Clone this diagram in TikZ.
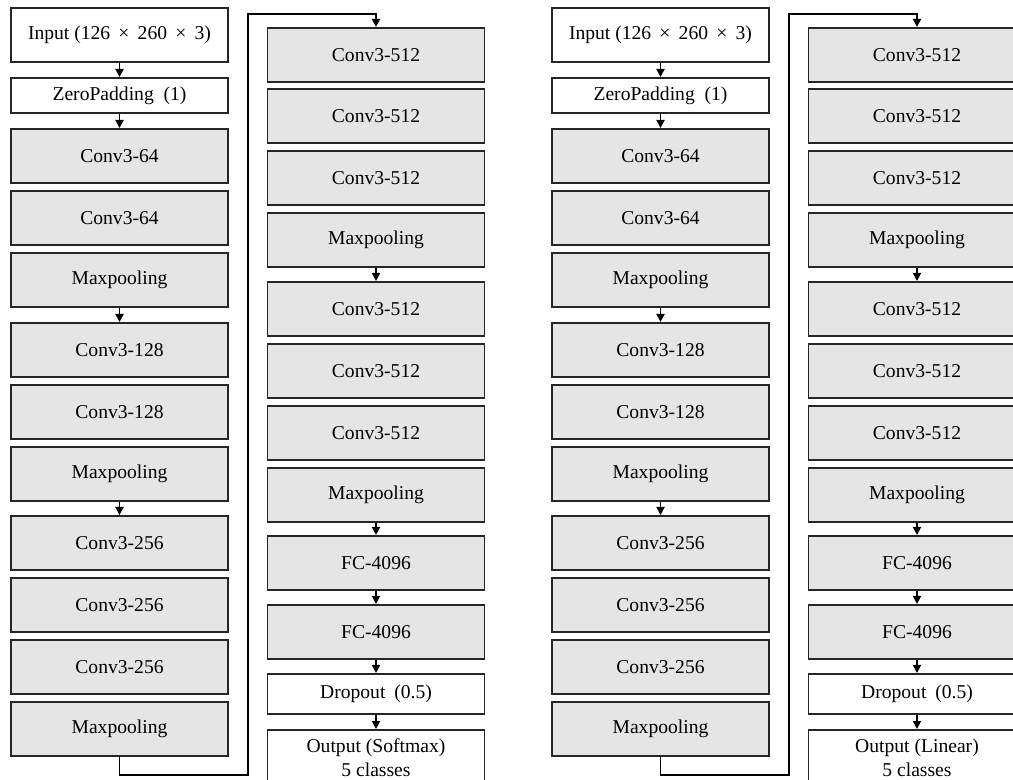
\documentclass[tikz,border=0pt]{standalone}
\usepackage{fontspec}
\setmainfont{Liberation Serif}
\usetikzlibrary{arrows.meta}

% one block: name, centre x, top y, height, style, label (units: 1 = 0.5pt)
\newcommand{\blk}[6]{\node[#5, minimum height=#4*0.5pt, anchor=north] (#1) at (#2,#3) {#6};}

% the full network in two columns; #1 = name prefix, #2 = output label
\newcommand{\vggnet}[2]{%
  % first column
  \blk{#1a1}{119.5}{7}{54}{plainbox}{Input (126\hspace{0.42em}×\hspace{0.42em}260\hspace{0.42em}×\hspace{0.42em}3)}
  \blk{#1a2}{119.5}{77}{35}{plainbox}{ZeroPadding\hspace{0.5em}(1)}
  \blk{#1a3}{119.5}{128}{54}{layer}{Conv3-64}
  \blk{#1a4}{119.5}{190}{54}{layer}{Conv3-64}
  \blk{#1a5}{119.5}{252}{54}{layer}{Maxpooling}
  \blk{#1a6}{119.5}{322}{54}{layer}{Conv3-128}
  \blk{#1a7}{119.5}{384}{54}{layer}{Conv3-128}
  \blk{#1a8}{119.5}{446}{54}{layer}{Maxpooling}
  \blk{#1a9}{119.5}{515}{54}{layer}{Conv3-256}
  \blk{#1a10}{119.5}{577}{54}{layer}{Conv3-256}
  \blk{#1a11}{119.5}{639}{54}{layer}{Conv3-256}
  \blk{#1a12}{119.5}{701}{54}{layer}{Maxpooling}
  % second column
  \blk{#1b1}{376}{27}{54}{layer}{Conv3-512}
  \blk{#1b2}{376}{88}{54}{layer}{Conv3-512}
  \blk{#1b3}{376}{150}{54}{layer}{Conv3-512}
  \blk{#1b4}{376}{212}{54}{layer}{Maxpooling}
  \blk{#1b5}{376}{281}{54}{layer}{Conv3-512}
  \blk{#1b6}{376}{343}{54}{layer}{Conv3-512}
  \blk{#1b7}{376}{405}{54}{layer}{Conv3-512}
  \blk{#1b8}{376}{467}{54}{layer}{Maxpooling}
  \blk{#1b9}{376}{535}{54}{layer}{FC-4096}
  \blk{#1b10}{376}{604}{54}{layer}{FC-4096}
  \blk{#1b11}{376}{673}{40}{plainbox}{Dropout\hspace{0.45em}(0.5)}
  \blk{#1b12}{376}{729}{56}{plainbox, font=\fontsize{9.8pt}{12pt}\selectfont}{#2}
  % data flow
  \draw[flow] (#1a1) -- (#1a2);
  \draw[flow] (#1a2) -- (#1a3);
  \draw[flow] (#1a5) -- (#1a6);
  \draw[flow] (#1a8) -- (#1a9);
  \draw[flow] (#1a12.south) -- ++(0,18) -| (248,14) -| (#1b1.north);
  \draw[flow] (#1b4) -- (#1b5);
  \draw[flow] (#1b8) -- (#1b9);
  \draw[flow] (#1b9) -- (#1b10);
  \draw[flow] (#1b10) -- (#1b11);
  \draw[flow] (#1b11) -- (#1b12);
}

\begin{document}
\begin{tikzpicture}[x=0.5pt, y=-0.5pt,
  every node/.style={font=\fontsize{9.8pt}{12.5pt}\selectfont},
  plainbox/.style={draw=black!85, line width=0.85pt, fill=white,
    minimum width=217*0.5pt, inner sep=0pt, align=center},
  layer/.style={plainbox, fill=black!10},
  flow/.style={draw=black, line width=0.9pt,
    -{Triangle[width=4pt, length=4pt]}}]
  \useasboundingbox (0,0) rectangle (1013,780);
  \clip (0,0) rectangle (1013,780);

  % VGG with softmax output
  \vggnet{s}{Output (Softmax)\\5 classes}

  % VGG with linear output
  \begin{scope}[xshift=541*0.5pt]
    \vggnet{l}{Output (Linear)\\5 classes}
  \end{scope}
\end{tikzpicture}
\end{document}
